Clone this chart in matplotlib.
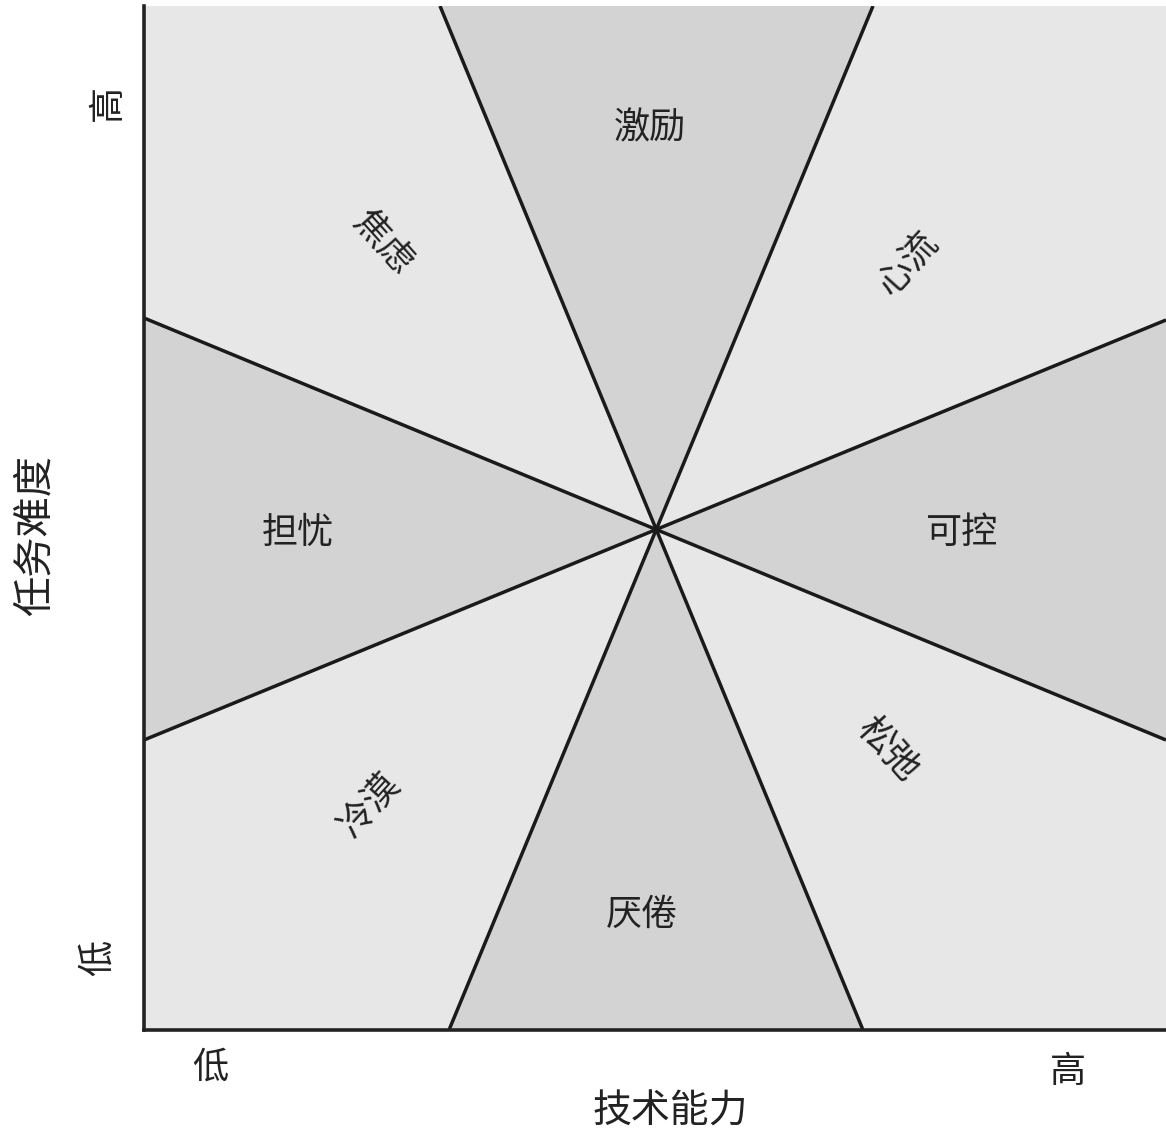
import matplotlib
matplotlib.use("Agg")
import matplotlib.pyplot as plt

plt.rcParams['font.family'] = ['Noto Sans CJK SC', 'DejaVu Sans']

# frame size in chart units (skill on x, difficulty on y)
W = 1022
H = 1024
center = (511, 501)

# where the four dividing lines meet the frame
top_x = [296, 729]
bottom_x = [305, 719]
left_y = [290, 712]
right_y = [290, 710]

regions = ["激励", "心流", "可控", "松弛", "厌倦", "冷漠", "担忧", "焦虑"]
shade = ["dark", "light", "dark", "light", "dark", "light", "dark", "light"]

x_label = "技术能力"
y_label = "任务难度"
low_high = ["低", "高"]

colors = {"dark": "#d3d3d3", "light": "#e7e7e7"}

cx, cy = center
polys = [
    [center, (top_x[0], H), (top_x[1], H)],
    [center, (top_x[1], H), (W, H), (W, right_y[1])],
    [center, (W, right_y[1]), (W, right_y[0])],
    [center, (W, right_y[0]), (W, 0), (bottom_x[1], 0)],
    [center, (bottom_x[1], 0), (bottom_x[0], 0)],
    [center, (bottom_x[0], 0), (0, 0), (0, left_y[0])],
    [center, (0, left_y[0]), (0, left_y[1])],
    [center, (0, left_y[1]), (0, H), (top_x[0], H)],
]

fig = plt.figure(figsize=(11.66, 11.37), dpi=100)
ax = fig.add_axes([144 / 1166, 107 / 1137, 1022 / 1166, 1024 / 1137])
ax.set_xlim(0, W)
ax.set_ylim(0, H)

for poly, s in zip(polys, shade):
    xs = [p[0] for p in poly]
    ys = [p[1] for p in poly]
    ax.fill(xs, ys, color=colors[s], lw=0, zorder=1)

# dividing lines through the centre
lines = [
    [(top_x[0], H), (bottom_x[1], 0)],
    [(top_x[1], H), (bottom_x[0], 0)],
    [(0, left_y[1]), (W, right_y[0])],
    [(0, left_y[0]), (W, right_y[1])],
]
for (x0, y0), (x1, y1) in lines:
    ax.plot([x0, x1], [y0, y1], color="#1a1a1a", lw=2.5, zorder=2,
            solid_capstyle="butt")

for side in ["top", "right"]:
    ax.spines[side].set_visible(False)
for side in ["left", "bottom"]:
    ax.spines[side].set_linewidth(2.6)
    ax.spines[side].set_color("#222222")
    ax.spines[side].set_zorder(3)
ax.set_xticks([])
ax.set_yticks([])

label_pos = [(506, 902), (764, 767), (818, 497), (744, 280),
             (498, 115), (226, 225), (154, 497), (239, 787)]
label_rot = [0, 48, 0, -48, 0, 48, 0, -48]
for name, (lx, ly), r in zip(regions, label_pos, label_rot):
    ax.text(lx, ly, name, fontsize=26, rotation=r, ha="center", va="center",
            color="#222222", zorder=4)

def ftext(px, py, s, size, rot=0):
    fig.text(px / 1166, 1 - py / 1137, s, fontsize=size, rotation=rot,
             ha="center", va="center", color="#222222")

ftext(210, 1068, low_high[0], 26)
ftext(1068, 1072, low_high[1], 26)
ftext(670, 1112, x_label, 28)
ftext(98, 958, low_high[0], 26, 90)
ftext(108, 103, low_high[1], 26, 90)
ftext(35, 535, y_label, 29, 90)

fig.savefig("out.png", dpi=100, facecolor="white")
